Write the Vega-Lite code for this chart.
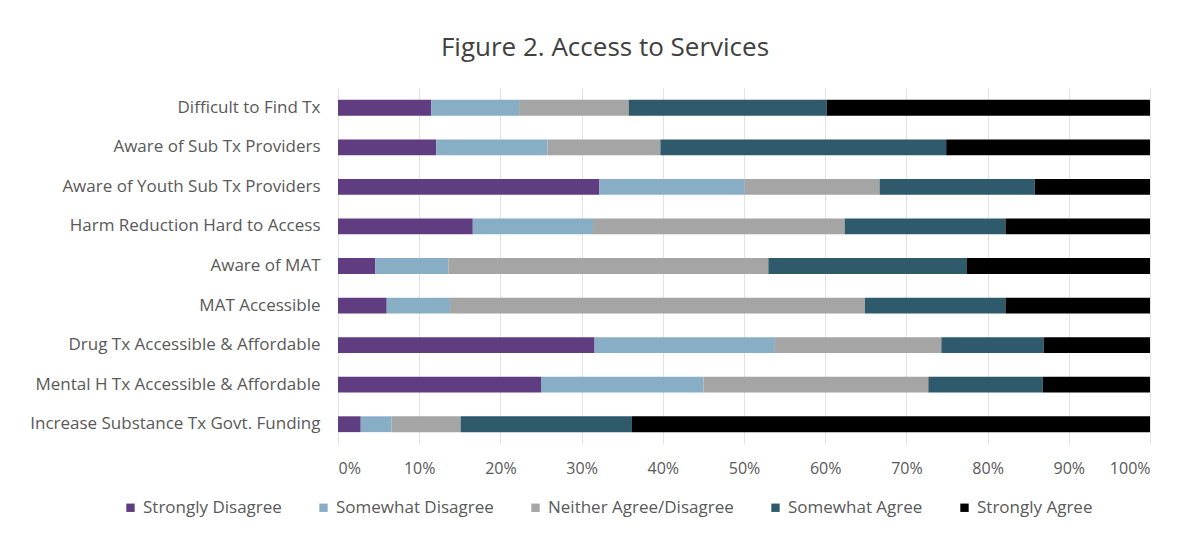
{
  "$schema": "https://vega.github.io/schema/vega-lite/v6.json",
  "width": 812,
  "height": 356,
  "autosize": {"type": "none"},
  "padding": {"left": 338, "top": 88, "right": 41, "bottom": 93},
  "background": "white",
  "title": {
    "text": "Figure 2. Access to Services",
    "anchor": "middle",
    "dx": -139,
    "offset": 27,
    "fontSize": 26,
    "font": "Open Sans",
    "fontWeight": 500,
    "color": "#404040"
  },
  "data": {
    "values": [
      {"q": "Difficult to Find Tx", "r": "Strongly Disagree", "v": 11.5},
      {"q": "Difficult to Find Tx", "r": "Somewhat Disagree", "v": 10.8},
      {"q": "Difficult to Find Tx", "r": "Neither Agree/Disagree", "v": 13.5},
      {"q": "Difficult to Find Tx", "r": "Somewhat Agree", "v": 24.4},
      {"q": "Difficult to Find Tx", "r": "Strongly Agree", "v": 39.8},
      {"q": "Aware of Sub Tx Providers", "r": "Strongly Disagree", "v": 12.1},
      {"q": "Aware of Sub Tx Providers", "r": "Somewhat Disagree", "v": 13.7},
      {"q": "Aware of Sub Tx Providers", "r": "Neither Agree/Disagree", "v": 13.9},
      {"q": "Aware of Sub Tx Providers", "r": "Somewhat Agree", "v": 35.2},
      {"q": "Aware of Sub Tx Providers", "r": "Strongly Agree", "v": 25.1},
      {"q": "Aware of Youth Sub Tx Providers", "r": "Strongly Disagree", "v": 32.2},
      {"q": "Aware of Youth Sub Tx Providers", "r": "Somewhat Disagree", "v": 17.9},
      {"q": "Aware of Youth Sub Tx Providers", "r": "Neither Agree/Disagree", "v": 16.6},
      {"q": "Aware of Youth Sub Tx Providers", "r": "Somewhat Agree", "v": 19.1},
      {"q": "Aware of Youth Sub Tx Providers", "r": "Strongly Agree", "v": 14.2},
      {"q": "Harm Reduction Hard to Access", "r": "Strongly Disagree", "v": 16.6},
      {"q": "Harm Reduction Hard to Access", "r": "Somewhat Disagree", "v": 14.8},
      {"q": "Harm Reduction Hard to Access", "r": "Neither Agree/Disagree", "v": 31.0},
      {"q": "Harm Reduction Hard to Access", "r": "Somewhat Agree", "v": 19.8},
      {"q": "Harm Reduction Hard to Access", "r": "Strongly Agree", "v": 17.8},
      {"q": "Aware of MAT", "r": "Strongly Disagree", "v": 4.6},
      {"q": "Aware of MAT", "r": "Somewhat Disagree", "v": 9.0},
      {"q": "Aware of MAT", "r": "Neither Agree/Disagree", "v": 39.4},
      {"q": "Aware of MAT", "r": "Somewhat Agree", "v": 24.4},
      {"q": "Aware of MAT", "r": "Strongly Agree", "v": 22.6},
      {"q": "MAT Accessible", "r": "Strongly Disagree", "v": 6.0},
      {"q": "MAT Accessible", "r": "Somewhat Disagree", "v": 7.8},
      {"q": "MAT Accessible", "r": "Neither Agree/Disagree", "v": 51.1},
      {"q": "MAT Accessible", "r": "Somewhat Agree", "v": 17.3},
      {"q": "MAT Accessible", "r": "Strongly Agree", "v": 17.8},
      {"q": "Drug Tx Accessible & Affordable", "r": "Strongly Disagree", "v": 31.6},
      {"q": "Drug Tx Accessible & Affordable", "r": "Somewhat Disagree", "v": 22.2},
      {"q": "Drug Tx Accessible & Affordable", "r": "Neither Agree/Disagree", "v": 20.5},
      {"q": "Drug Tx Accessible & Affordable", "r": "Somewhat Agree", "v": 12.6},
      {"q": "Drug Tx Accessible & Affordable", "r": "Strongly Agree", "v": 13.1},
      {"q": "Mental H Tx Accessible & Affordable", "r": "Strongly Disagree", "v": 25.0},
      {"q": "Mental H Tx Accessible & Affordable", "r": "Somewhat Disagree", "v": 20.0},
      {"q": "Mental H Tx Accessible & Affordable", "r": "Neither Agree/Disagree", "v": 27.7},
      {"q": "Mental H Tx Accessible & Affordable", "r": "Somewhat Agree", "v": 14.1},
      {"q": "Mental H Tx Accessible & Affordable", "r": "Strongly Agree", "v": 13.2},
      {"q": "Increase Substance Tx Govt. Funding", "r": "Strongly Disagree", "v": 2.8},
      {"q": "Increase Substance Tx Govt. Funding", "r": "Somewhat Disagree", "v": 3.8},
      {"q": "Increase Substance Tx Govt. Funding", "r": "Neither Agree/Disagree", "v": 8.5},
      {"q": "Increase Substance Tx Govt. Funding", "r": "Somewhat Agree", "v": 21.1},
      {"q": "Increase Substance Tx Govt. Funding", "r": "Strongly Agree", "v": 63.8}
    ]
  },
  "transform": [
    {"calculate": "indexof(['Strongly Disagree','Somewhat Disagree','Neither Agree/Disagree','Somewhat Agree','Strongly Agree'], datum.r)", "as": "ord"}
  ],
  "mark": {"type": "bar"},
  "encoding": {
    "y": {
      "field": "q",
      "type": "nominal",
      "sort": ["Difficult to Find Tx", "Aware of Sub Tx Providers", "Aware of Youth Sub Tx Providers", "Harm Reduction Hard to Access", "Aware of MAT", "MAT Accessible", "Drug Tx Accessible & Affordable", "Mental H Tx Accessible & Affordable", "Increase Substance Tx Govt. Funding"],
      "scale": {"paddingInner": 0.6, "paddingOuter": 0.3},
      "axis": {
        "title": null,
        "ticks": false,
        "domain": false,
        "labelPadding": 18,
        "labelFont": "Open Sans",
        "labelFontSize": 17,
        "labelColor": "#595959",
        "labelLimit": 400
      }
    },
    "x": {
      "field": "v",
      "type": "quantitative",
      "stack": "normalize",
      "scale": {"domain": [0, 1]},
      "axis": {
        "title": null,
        "format": ".0%",
        "values": [0, 0.1, 0.2, 0.3, 0.4, 0.5, 0.6, 0.7, 0.8, 0.9, 1],
        "ticks": false,
        "domain": false,
        "grid": true,
        "gridColor": "#e3e3e3",
        "labelPadding": 16,
        "labelFont": "Open Sans",
        "labelFontSize": 16,
        "labelColor": "#595959"
      }
    },
    "color": {
      "field": "r",
      "type": "nominal",
      "sort": ["Strongly Disagree", "Somewhat Disagree", "Neither Agree/Disagree", "Somewhat Agree", "Strongly Agree"],
      "scale": {
        "domain": ["Strongly Disagree", "Somewhat Disagree", "Neither Agree/Disagree", "Somewhat Agree", "Strongly Agree"],
        "range": ["#5f3d80", "#88aec6", "#a5a5a5", "#2f5a6b", "#000000"]
      },
      "legend": {
        "title": null,
        "orient": "none",
        "direction": "horizontal",
        "legendX": -216,
        "legendY": 411,
        "symbolType": "square",
        "symbolSize": 70,
        "labelFont": "Open Sans",
        "labelFontSize": 17,
        "labelColor": "#595959",
        "labelLimit": 400,
        "columnPadding": 33,
        "labelOffset": 4
      }
    },
    "order": {"field": "ord", "type": "quantitative"}
  },
  "config": {
    "view": {"stroke": null}
  }
}
